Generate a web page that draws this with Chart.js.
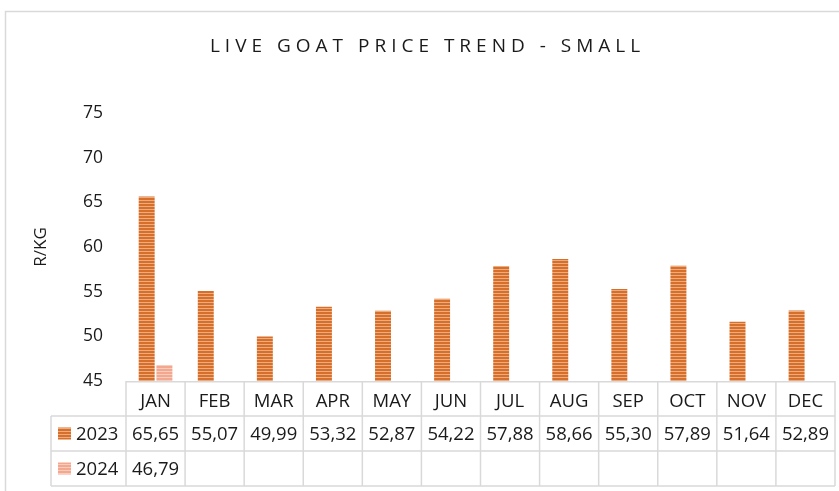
<!DOCTYPE html>
<html>
<head>
<meta charset="utf-8">
<script src="https://cdn.jsdelivr.net/npm/chart.js@4.4.1/dist/chart.umd.min.js"></script>
<style>
  html, body { margin: 0; padding: 0; background: #ffffff; }
  #wrap { position: relative; width: 839px; height: 491px; }
</style>
</head>
<body>
<div id="wrap"><canvas id="goatChart"></canvas></div>
<script>
const chartTitle = "LIVE GOAT PRICE TREND - SMALL";
const axisTitle = "R/KG";
const months = ["JAN", "FEB", "MAR", "APR", "MAY", "JUN", "JUL", "AUG", "SEP", "OCT", "NOV", "DEC"];
const seriesNames = ["2023", "2024"];
const prices2023 = [65.65, 55.07, 49.99, 53.32, 52.87, 54.22, 57.88, 58.66, 55.30, 57.89, 51.64, 52.89];
const prices2024 = [46.79, null, null, null, null, null, null, null, null, null, null, null];
const yMin = 45;
const yMax = 75;
const yStep = 5;

const FONT = "'Open Sans', 'DejaVu Sans', sans-serif";
const TEXT = "#1a1a1a";

const makeStripes = (dark, light) => {
  const tile = document.createElement("canvas");
  tile.width = 4;
  tile.height = 3;
  const tctx = tile.getContext("2d");
  tctx.fillStyle = light;
  tctx.fillRect(0, 0, 4, 3);
  tctx.fillStyle = dark;
  tctx.fillRect(0, 0, 4, 2);
  return tctx.createPattern(tile, "repeat");
};

const fill2023 = makeStripes("#d66f2b", "#eeac7c");
const fill2024 = makeStripes("#f2a78e", "#f9cdbd");

const formatPrice = (value) => (value == null ? "" : value.toFixed(2).replace(".", ","));

// chart frame + spaced title
const framePlugin = {
  id: "frame",
  beforeDraw(chart) {
    const { ctx, width, height } = chart;
    ctx.save();
    ctx.strokeStyle = "#d9d9d9";
    ctx.lineWidth = 1.5;
    ctx.beginPath();
    ctx.moveTo(5.5, height);
    ctx.lineTo(5.5, 11.5);
    ctx.lineTo(width, 11.5);
    ctx.stroke();
    ctx.restore();
  },
  afterDraw(chart) {
    const { ctx } = chart;
    ctx.save();
    ctx.font = `19px ${FONT}`;
    ctx.letterSpacing = "5px";
    ctx.fillStyle = TEXT;
    ctx.textAlign = "center";
    ctx.textBaseline = "middle";
    ctx.fillText(chartTitle, 427.5, 47);
    ctx.restore();
  },
};

// data table under the x axis
const tablePlugin = {
  id: "dataTable",
  afterDraw(chart) {
    const { ctx, chartArea } = chart;
    const x = chart.scales.x;
    const rowH = 35;
    const top = chartArea.bottom;
    const legendLeft = 51;
    const half = (x.getPixelForValue(1) - x.getPixelForValue(0)) / 2;
    const line = (x1, y1, x2, y2) => {
      ctx.beginPath();
      ctx.moveTo(x1, y1);
      ctx.lineTo(x2, y2);
      ctx.stroke();
    };

    ctx.save();
    ctx.strokeStyle = "#d9d9d9";
    ctx.lineWidth = 1.5;
    line(chartArea.left, top + 0.75, chartArea.right, top + 0.75);
    for (let r = 1; r <= 3; r++) {
      line(legendLeft, top + r * rowH, chartArea.right, top + r * rowH);
    }
    line(legendLeft, top + rowH, legendLeft, top + 3 * rowH);
    months.forEach((_, i) => {
      const cx = x.getPixelForValue(i) - half;
      line(cx, top, cx, top + 3 * rowH);
    });
    line(chartArea.right, top, chartArea.right, top + 3 * rowH);

    const rows = [
      { name: seriesNames[0], values: prices2023, fill: fill2023 },
      { name: seriesNames[1], values: prices2024, fill: fill2024 },
    ];
    ctx.font = `18.5px ${FONT}`;
    ctx.textBaseline = "middle";
    rows.forEach((row, r) => {
      const cy = top + rowH * (r + 1) + rowH / 2;
      ctx.fillStyle = row.fill;
      ctx.fillRect(58, cy - 6, 13, 12);
      ctx.fillStyle = TEXT;
      ctx.textAlign = "left";
      ctx.fillText(row.name, 76, cy + 1);
      ctx.textAlign = "center";
      row.values.forEach((v, i) => {
        if (v != null) {
          ctx.fillText(formatPrice(v), x.getPixelForValue(i), cy + 1);
        }
      });
    });
    ctx.restore();
  },
};

new Chart(document.getElementById("goatChart"), {
  type: "bar",
  data: {
    labels: months,
    datasets: [
      {
        label: seriesNames[0],
        data: prices2023,
        backgroundColor: fill2023,
        categoryPercentage: 0.6,
        barPercentage: 0.9,
      },
      {
        label: seriesNames[1],
        data: prices2024,
        backgroundColor: fill2024,
        categoryPercentage: 0.6,
        barPercentage: 0.9,
      },
    ],
  },
  options: {
    responsive: true,
    maintainAspectRatio: false,
    animation: false,
    layout: { padding: { top: 113, right: 4, bottom: 0, left: 0 } },
    plugins: {
      legend: { display: false },
      tooltip: { enabled: false },
    },
    scales: {
      x: {
        grid: { display: false },
        border: { display: false },
        ticks: {
          padding: 2,
          color: TEXT,
          maxRotation: 0,
          autoSkip: false,
          font: { family: FONT, size: 18.5 },
        },
        afterFit(scale) {
          scale.height = 110;
        },
      },
      y: {
        min: yMin,
        max: yMax,
        grid: { display: false },
        border: { display: false },
        ticks: {
          stepSize: yStep,
          padding: 15,
          color: TEXT,
          font: { family: FONT, size: 17.5 },
        },
        title: {
          display: true,
          text: axisTitle,
          color: TEXT,
          font: { family: FONT, size: 17 },
          padding: { top: 31, bottom: 0 },
        },
        afterFit(scale) {
          scale.width = 126;
        },
      },
    },
  },
  plugins: [framePlugin, tablePlugin],
});
</script>
</body>
</html>
